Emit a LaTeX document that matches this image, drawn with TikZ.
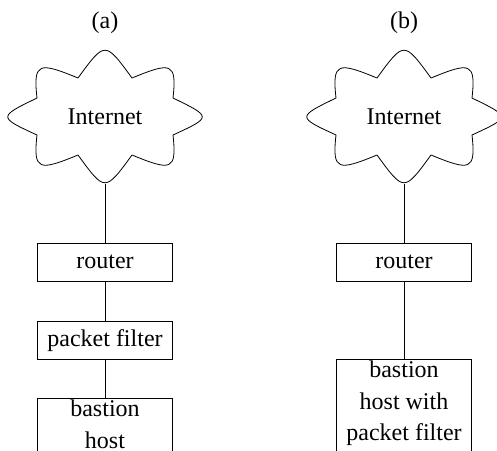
\documentclass[tikz,border=0pt]{standalone}
\usepackage{fontspec}
\setmainfont{Liberation Serif}
\usepackage{tikz}
\usetikzlibrary{positioning}

% Internet cloud drawn round the centre of a named node
\newcommand{\netcloud}[1]{%
  \draw[shift={(#1.center)}, x=0.5pt, y=0.5pt]
    (-27,39) .. controls (0,76) and (0,76) .. (27,39)
    .. controls (66,55) and (72,55) .. (68,19)
    .. controls (107,0) and (107,0) .. (68,-18)
    .. controls (72,-54) and (66,-54) .. (27,-38)
    .. controls (0,-75) and (0,-75) .. (-27,-38)
    .. controls (-66,-54) and (-72,-54) .. (-68,-18)
    .. controls (-107,0) and (-107,0) .. (-68,19)
    .. controls (-72,55) and (-66,55) .. (-27,39) -- cycle;}

\begin{document}
\begin{tikzpicture}[
    font=\fontsize{12}{15.75}\selectfont,
    tag/.style={inner sep=1pt},
    inet/.style={inner sep=0pt, minimum width=96.5pt, minimum height=66.5pt},
    box/.style={rectangle, draw, align=center, minimum width=67.5pt, minimum height=19pt, inner xsep=2pt, inner ysep=1pt},
    hostbox/.style={box, text depth=8pt}
]
\useasboundingbox (0,0) rectangle (248.5pt,-225pt);
\clip (0,0) rectangle (248.5pt,-225pt);

% (a) router, then packet filter, then bastion host
\node[tag] (capa) at (52.5pt,-11.25pt) {(a)};
\node[inet] (neta) at (52.5pt,-58.5pt) {Internet};
\netcloud{neta}
\node[box, below=29.5pt of neta] (routera) {router};
\node[box, below=19.5pt of routera] (filtera) {packet filter};
\node[hostbox, below=19pt of filtera] (bastiona) {bastion\\host};

\draw (neta) -- (routera);
\draw (routera) -- (filtera);
\draw (filtera) -- (bastiona);

% (b) router, then bastion host doing the filtering
\node[tag] (capb) at (202pt,-11.25pt) {(b)};
\node[inet] (netb) at (202pt,-58.5pt) {Internet};
\netcloud{netb}
\node[box, below=29.5pt of netb] (routerb) {router};
\node[hostbox, below=38.5pt of routerb] (bastionb) {bastion\\host with\\packet filter};

\draw (netb) -- (routerb);
\draw (routerb) -- (bastionb);

\end{tikzpicture}
\end{document}
